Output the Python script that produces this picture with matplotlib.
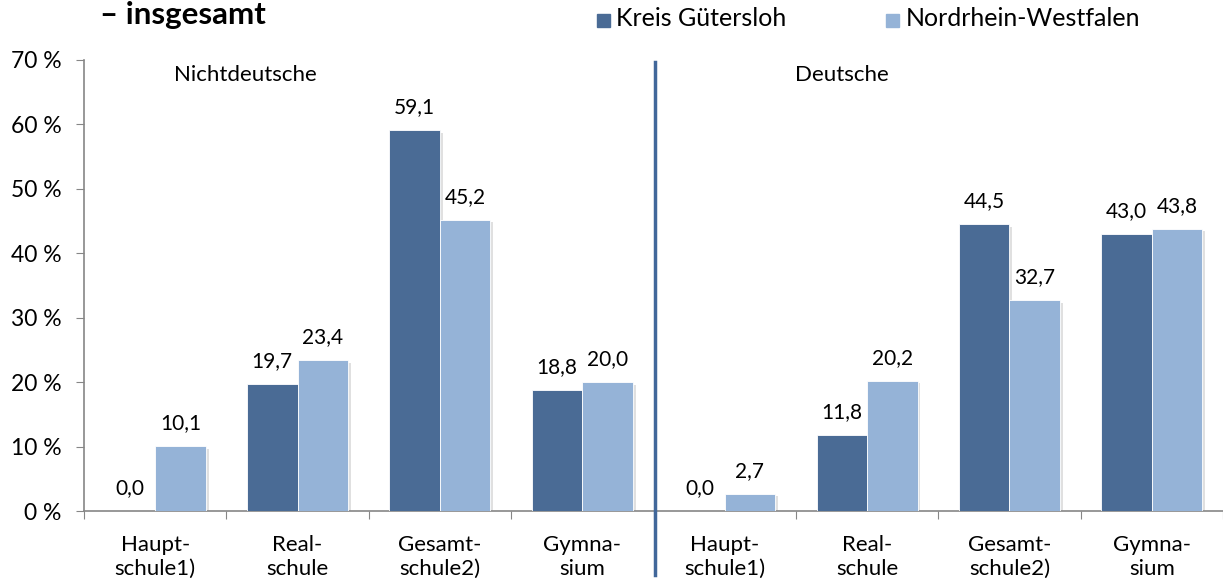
import matplotlib
matplotlib.use("Agg")
import matplotlib.pyplot as plt
import numpy as np
from matplotlib.lines import Line2D

categories = ["Haupt-\nschule1)", "Real-\nschule", "Gesamt-\nschule2)", "Gymna-\nsium",
              "Haupt-\nschule1)", "Real-\nschule", "Gesamt-\nschule2)", "Gymna-\nsium"]
kreis = [0.0, 19.7, 59.1, 18.8, 0.0, 11.8, 44.5, 43.0]
nrw = [10.1, 23.4, 45.2, 20.0, 2.7, 20.2, 32.7, 43.8]
series_names = ["Kreis Gütersloh", "Nordrhein-Westfalen"]
group_names = ["Nichtdeutsche", "Deutsche"]
yticks = [0, 10, 20, 30, 40, 50, 60, 70]

plt.rcParams['font.family'] = ['Lato', 'DejaVu Sans']
dark = "#4A6B95"
light = "#95B3D7"

fig = plt.figure(figsize=(12.23, 5.86), dpi=100)
ax = fig.add_axes([84/1223, 1 - 511/586, 1 - 84/1223, (511 - 60)/586])

x = np.arange(len(categories))
w = 0.355
ax.bar(x - w/2, kreis, w, color=dark, edgecolor="white", linewidth=0.6, zorder=3)
ax.bar(x + w/2, nrw, w, color=light, edgecolor="white", linewidth=0.6, zorder=3)
# subtle shadows
ax.bar(x - w/2 + 0.02, kreis, w, bottom=-0.4, color="#e0e0e0", zorder=2)
ax.bar(x + w/2 + 0.02, nrw, w, bottom=-0.4, color="#e0e0e0", zorder=2)

def fmt(v):
    return f"{v:.1f}".replace(".", ",")

for xi, v in zip(x - w/2, kreis):
    ax.annotate(fmt(v), (xi, v), xytext=(0, 23), textcoords="offset pixels",
                ha="center", va="center", fontsize=15)
for xi, v in zip(x + w/2, nrw):
    ax.annotate(fmt(v), (xi, v), xytext=(0, 23), textcoords="offset pixels",
                ha="center", va="center", fontsize=15)

ax.set_xlim(-0.5, len(categories) - 0.5)
ax.set_ylim(0, 70)
ax.set_yticks(yticks)
ax.set_yticklabels([f"{t} %" for t in yticks], fontsize=16.5)
ax.set_xticks(np.arange(-0.5, len(categories) + 0.5, 1.0))
ax.set_xticklabels([])
ax.set_xticks(x, minor=True)
ax.set_xticklabels(categories, minor=True, fontsize=16, linespacing=1.25)
ax.tick_params(axis="x", which="minor", length=0, pad=17)
ax.tick_params(axis="x", which="major", length=6, color="#868686", direction="out")
ax.tick_params(axis="y", length=6, color="#868686", direction="out", pad=10)

for s in ["top", "right"]:
    ax.spines[s].set_visible(False)
for s in ["left", "bottom"]:
    ax.spines[s].set_color("#868686")
    ax.spines[s].set_linewidth(1.2)

# divider line
fig.add_artist(Line2D([655/1223, 655/1223], [1 - 62/586, 1 - 575/586],
                      color="#41679A", linewidth=2.5, transform=fig.transFigure))

ax.text(0.63, 67.6, group_names[0], ha="center", va="center", fontsize=16)
ax.text(4.82, 67.6, group_names[1], ha="center", va="center", fontsize=16)

fig.text(100/1223, 1 - 15/586, "– insgesamt", fontsize=22.5, fontweight="bold",
         ha="left", va="center")

# legend
fig.patches.append(matplotlib.patches.Rectangle((597/1223, 1 - 27/586), 13/1223, 13/586,
                   color=dark, transform=fig.transFigure))
fig.text(616/1223, 1 - 19/586, series_names[0], fontsize=18, ha="left", va="center")
fig.patches.append(matplotlib.patches.Rectangle((886/1223, 1 - 27/586), 13/1223, 13/586,
                   color=light, transform=fig.transFigure))
fig.text(906/1223, 1 - 19/586, series_names[1], fontsize=18, ha="left", va="center")

fig.savefig("out.png", dpi=100)
